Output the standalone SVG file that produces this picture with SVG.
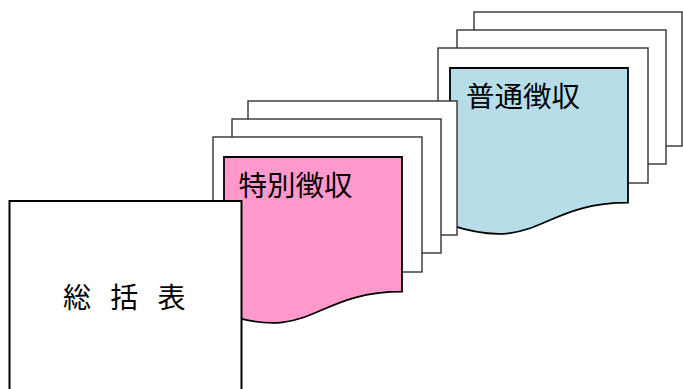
<svg xmlns="http://www.w3.org/2000/svg" width="683" height="389" viewBox="0 0 683 389">
<style>
.sheet{fill:#ffffff;stroke:#333333;stroke-width:1.4}
.doc{stroke:#000000;stroke-width:1.8}
.pink{fill:#ff99cc}
.blue{fill:#b7dee8}
.box{fill:#ffffff;stroke:#000000;stroke-width:2}
.lbl{font-family:"Noto Sans CJK JP","Noto Sans CJK SC",sans-serif;fill:#000000}
</style>
<rect width="683" height="389" fill="#ffffff"/>
<g id="futsu-stack">
<rect class="sheet" x="474" y="12" width="208" height="134"/>
<rect class="sheet" x="457" y="30" width="209" height="134"/>
<rect class="sheet" x="438" y="48" width="210" height="135"/>
<path class="doc blue" d="M450,68 H628 V202.7 C539,202.7 539,254.1 450,224.9 Z"/>
<text class="lbl" x="466" y="107" font-size="28.5">普通徴収</text>
</g>
<g id="tokubetsu-stack">
<rect class="sheet" x="248" y="101" width="209" height="134"/>
<rect class="sheet" x="232" y="119" width="209" height="134"/>
<rect class="sheet" x="213" y="137" width="209" height="135"/>
<path class="doc pink" d="M224,157 H402 V291.7 C313,291.7 313,343.1 224,313.9 Z"/>
<text class="lbl" x="238.5" y="196" font-size="28.5">特別徴収</text>
</g>
<g id="soukatsu">
<rect class="box" x="9.5" y="201" width="232" height="200"/>
<text class="lbl" x="63" y="307.5" font-size="28" letter-spacing="6.5">総 括 表</text>
</g>
<g id="connectors"/>
</svg>
